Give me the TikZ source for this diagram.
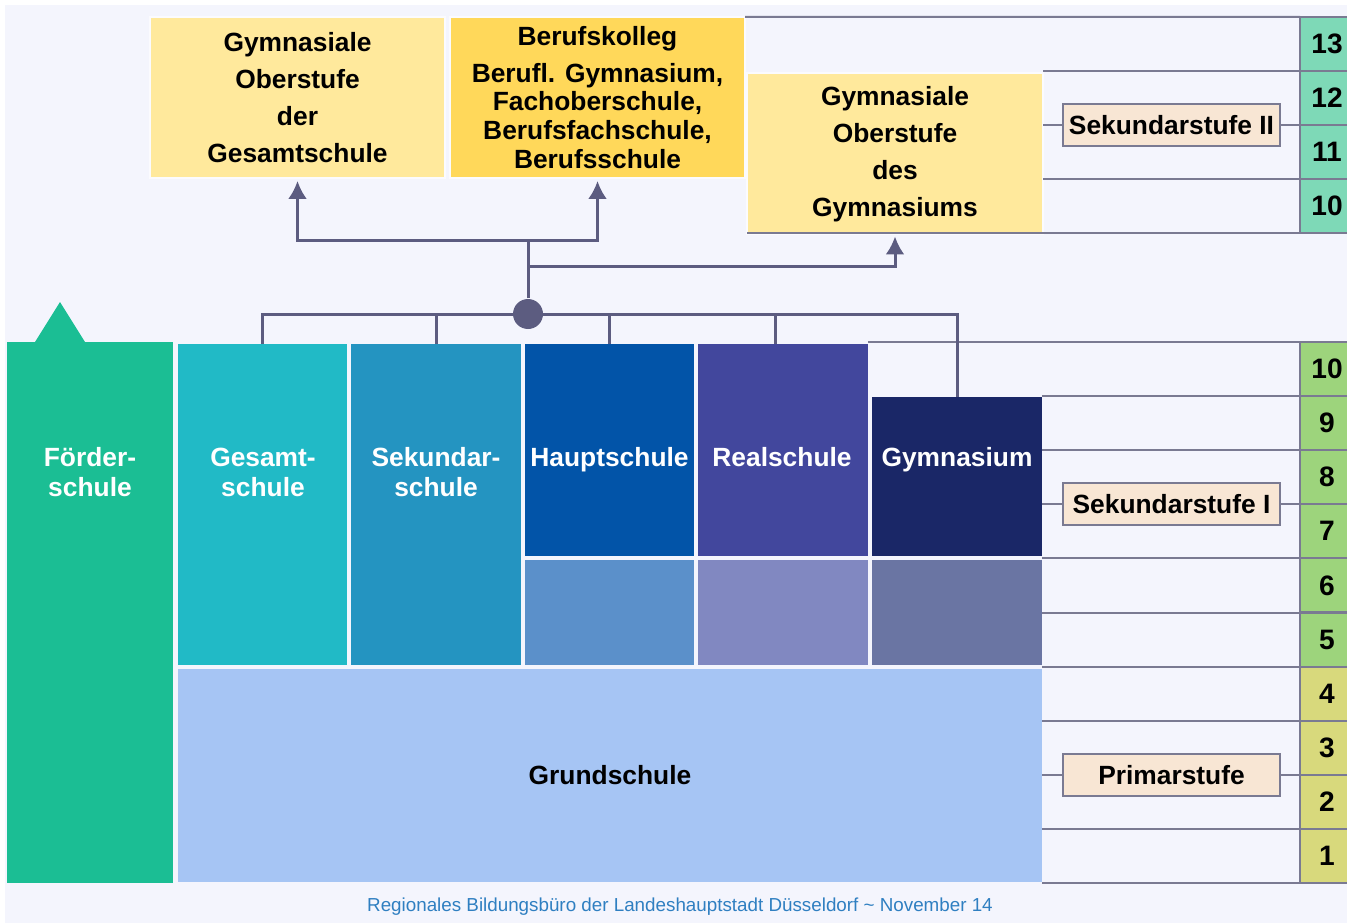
\documentclass[tikz,border=0pt]{standalone}
\usepackage{fontspec}
\setmainfont{Liberation Sans}
\usepackage{tikz}
\usetikzlibrary{positioning, calc, arrows.meta}
\definecolor{Bg}{RGB}{244,245,253}
\definecolor{Line}{RGB}{92,92,128}
\definecolor{Grid}{RGB}{122,122,146}
\definecolor{Yel-1}{RGB}{255,233,156}
\definecolor{Yel-2}{RGB}{255,216,90}
\definecolor{Lbl}{RGB}{248,230,212}
\definecolor{Foerd}{RGB}{27,190,148}
\definecolor{Gesamt}{RGB}{33,186,198}
\definecolor{Sekund}{RGB}{36,148,193}
\definecolor{Haupt}{RGB}{2,84,168}
\definecolor{Haupt-lo}{RGB}{91,144,202}
\definecolor{Real}{RGB}{66,71,157}
\definecolor{Real-lo}{RGB}{129,136,193}
\definecolor{Gym}{RGB}{26,39,103}
\definecolor{Gym-lo}{RGB}{106,117,163}
\definecolor{Grund}{RGB}{166,197,244}
\definecolor{Kl-2}{RGB}{126,217,183}
\definecolor{Kl-1}{RGB}{157,212,124}
\definecolor{Kl-0}{RGB}{216,217,124}
\definecolor{Foot}{RGB}{47,127,193}

\begin{document}
\begin{tikzpicture}[x=0.1mm, y=-0.1mm, >={Latex[length=1.8mm,width=1.9mm]}]
      \tikzset{ box/.style  ={rectangle, inner sep=0pt, outer sep=0pt, align=center, font=\fontsize{7.5}{10.5}\selectfont\bfseries} }
      \tikzset{ obox/.style ={box, draw=white!60!Bg, line width=0.2mm, minimum width=29.5mm, minimum height=16.1mm} }
      \tikzset{ col/.style  ={box, minimum width=17mm} }
      \tikzset{ ctxt/.style ={box, text=white, font=\fontsize{7.5}{8.5}\selectfont\bfseries} }
      \tikzset{ grade/.style={box, draw=Grid, line width=0.2mm, minimum width=5.4mm, minimum height=5.4mm, font=\fontsize{8}{9}\selectfont\bfseries} }
      \tikzset{ stufe/.style={box, draw=Grid, line width=0.2mm, fill=Lbl, minimum width=21.7mm, minimum height=4.2mm} }
      \tikzset{ conn/.style ={draw=Line, line width=0.3mm} }
      \tikzset{ gline/.style={draw=Grid, line width=0.2mm} }

      \fill[white] (0,0) rectangle (1347,923);
      \fill[Bg] (5,5) rectangle (1347,923);
      \path[use as bounding box] (0,0) rectangle (1347,923);

      % school years
      \foreach \g/\y in {13/44, 12/98, 11/152, 10/206}
        \node[grade, fill=Kl-2] (s\g) at (1327,\y) {\g};
      \foreach \g in {10,...,5}
        \node[grade, fill=Kl-1] (k\g) at (1327,{369+(10-\g)*54.1}) {\g};
      \foreach \g in {4,...,1}
        \node[grade, fill=Kl-0] (k\g) at (1327,{369+(10-\g)*54.1}) {\g};

      % upper level
      \node[obox, fill=Yel-1] (gosg) at (297.5,97.5) {Gymnasiale\\Oberstufe\\der\\Gesamtschule};
      \node[obox, fill=Yel-2, font=\fontsize{7.5}{8.2}\selectfont\bfseries] (bk) at (597.5,97.5) {Berufskolleg\\[2.3pt]Berufl. Gymnasium,\\Fachoberschule,\\Berufsfachschule,\\Berufsschule};
      \node[obox, fill=Yel-1, minimum width=29.6mm] (gosgym) at (895,154) {Gymnasiale\\Oberstufe\\des\\Gymnasiums};

      \draw[gline] (bk.north east) -- (s13.north west);
      \draw[gline] (s12.north west) -- (s12.north west -| gosgym.east);
      \draw[gline] (s12.south west) -- (s12.south west -| gosgym.east);
      \draw[gline] (s11.south west) -- (s11.south west -| gosgym.east);
      \draw[gline] (s10.south west) -- (s10.south west -| gosgym.west);

      % lower levels
      \node[col, fill=Foerd, minimum width=16.6mm, minimum height=54.1mm] (foerder) at (90,612.5) {};
      \fill[Foerd] ([xshift=2.8mm]foerder.north west) -- ++(25,-40) -- ++(25,40) -- cycle;
      \node[col, fill=Gesamt, minimum width=16.9mm, minimum height=32.1mm] (gesamt) at (262.5,504.5) {};
      \node[col, fill=Sekund, minimum height=32.1mm] (sekund) at (436,504.5) {};
      \node[col, fill=Haupt, minimum width=16.9mm, minimum height=21.2mm] (haupt) at (609.5,450) {};
      \node[col, fill=Haupt-lo, minimum width=16.9mm, minimum height=10.5mm] (haupt-lo) at (609.5,612.5) {};
      \node[col, fill=Real, minimum height=21.2mm] (real) at (783,450) {};
      \node[col, fill=Real-lo, minimum height=10.5mm] (real-lo) at (783,612.5) {};
      \node[col, fill=Gym, minimum height=15.9mm] (gym) at (957,476.5) {};
      \node[col, fill=Gym-lo, minimum height=10.5mm] (gym-lo) at (957,612.5) {};
      \node[box, fill=Grund, minimum width=86.4mm, minimum height=21.3mm] (grund) at (610,775.5) {Grundschule};

      \node[ctxt] (foerder-t) at (90,472)  {Förder-\\schule};
      \node[ctxt] (gesamt-t)  at (263,472) {Gesamt-\\schule};
      \node[ctxt] (sekund-t)  at (436,472) {Sekundar-\\schule};
      \node[ctxt, anchor=base] (haupt-t) at (609.5,466) {Hauptschule};
      \node[ctxt, anchor=base] (real-t)  at (782,466)   {Realschule};
      \node[ctxt, anchor=base] (gym-t)   at (957,466)   {Gymnasium};

      \draw[gline] (k10.north west) -- (k10.north west -| real.north east);
      \foreach \g in {9,...,1}
        \draw[gline] (k\g.north west) -- (k\g.north west -| gym.east);
      \draw[gline] (k1.south west) -- (k1.south west -| gym.east);

      \node[stufe] (sek2) at (1171.5,125) {Sekundarstufe II};
      \node[stufe] (sek1) at (1171.5,504) {Sekundarstufe I};
      \node[stufe] (prim) at (1171.5,775) {Primarstufe};

      % transitions
      \node[circle, fill=Line, minimum size=3mm, inner sep=0pt] (hub) at (528,314) {};
      \draw[conn] (gesamt.north) -- (gesamt.north |- hub) -- (gym.north |- hub) -- (gym.north);
      \draw[conn] (sekund.north) -- (sekund.north |- hub);
      \draw[conn] (haupt.north) -- (haupt.north |- hub);
      \draw[conn] ([xshift=-0.8mm]real.north) -- ([xshift=-0.8mm]real.north |- hub);
      \coordinate (fork) at (528,240);
      \coordinate (knee) at (528,266);
      \draw[conn] (hub) -- (fork);
      \draw[conn,->,shorten >=0.3mm] (fork) -| (gosg.south);
      \draw[conn,->,shorten >=0.3mm] (fork) -| (bk.south);
      \draw[conn,->,shorten >=0.2mm] (knee) -| (gosgym.south);

      \node[font=\fontsize{5.35}{6}\selectfont, text=Foot] (foot) at (680,907) {Regionales Bildungsbüro der Landeshauptstadt Düsseldorf \textasciitilde{} November 14};
\end{tikzpicture}
\end{document}
